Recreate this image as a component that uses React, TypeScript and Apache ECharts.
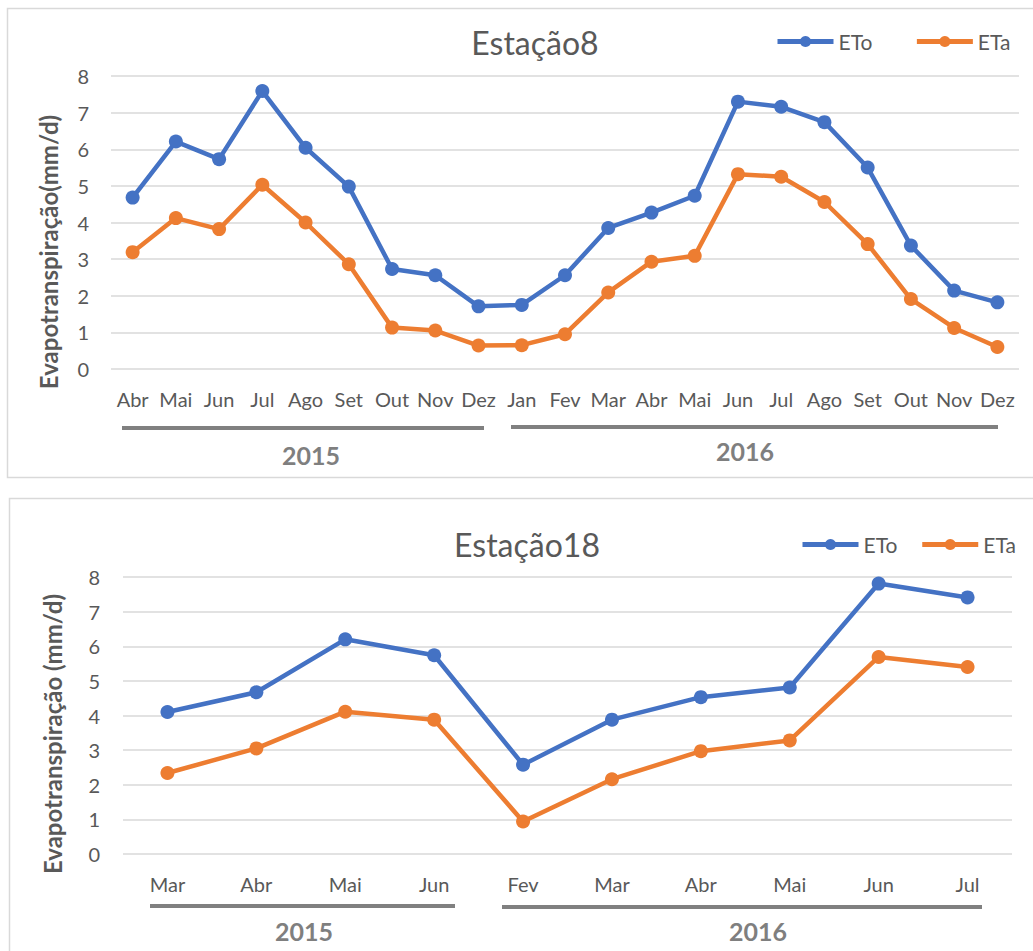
import React, { useEffect, useRef } from "react";
import * as echarts from "echarts";

// ---- Data: Estação8 ----
const months8 = ["Abr", "Mai", "Jun", "Jul", "Ago", "Set", "Out", "Nov", "Dez", "Jan", "Fev", "Mar", "Abr", "Mai", "Jun", "Jul", "Ago", "Set", "Out", "Nov", "Dez"];
const eto8 = [4.68, 6.21, 5.73, 7.59, 6.04, 4.98, 2.73, 2.56, 1.71, 1.75, 2.56, 3.85, 4.27, 4.73, 7.3, 7.16, 6.74, 5.5, 3.37, 2.14, 1.82];
const eta8 = [3.19, 4.12, 3.82, 5.03, 4.0, 2.86, 1.13, 1.05, 0.64, 0.65, 0.95, 2.09, 2.93, 3.09, 5.32, 5.25, 4.56, 3.41, 1.91, 1.12, 0.6];

// ---- Data: Estação18 ----
const months18 = ["Mar", "Abr", "Mai", "Jun", "Fev", "Mar", "Abr", "Mai", "Jun", "Jul"];
const eto18 = [4.1, 4.67, 6.2, 5.74, 2.58, 3.88, 4.53, 4.81, 7.81, 7.41];
const eta18 = [2.34, 3.05, 4.11, 3.88, 0.94, 2.16, 2.97, 3.28, 5.69, 5.4];

const yearLabels = ["2015", "2016"];
const seriesNames = ["ETo", "ETa"];
const titles = ["Estação8", "Estação18"];
const yNames = ["Evapotranspiração(mm/d)", "Evapotranspiração (mm/d)"];

const BLUE = "#4472C4";
const ORANGE = "#ED7D31";
const TEXT = "#595959";
const GRID = "#D9D9D9";
const YEARGRAY = "#7F7F7F";
const FONT = "Lato, 'Noto Sans', sans-serif";

export default function App() {
  const ref = useRef<HTMLDivElement>(null);
  useEffect(() => {
    if (!ref.current) return;
    const chart = echarts.init(ref.current, undefined, { renderer: "svg" });

    const yAxisBase = (gridIndex: number, margin: number) => ({
      type: "value",
      gridIndex,
      min: 0,
      max: 8,
      interval: 1,
      axisLine: { show: false },
      axisTick: { show: false },
      axisLabel: { color: TEXT, fontSize: 20, fontFamily: FONT, margin },
      splitLine: { lineStyle: { color: GRID, width: 1.5 } },
    });
    const xAxisBase = (gridIndex: number, data: string[]) => ({
      type: "category",
      gridIndex,
      data,
      boundaryGap: true,
      axisLine: { show: false },
      axisTick: { show: false },
      axisLabel: { color: TEXT, fontSize: 20, fontFamily: FONT, margin: 20, interval: 0 },
    });
    const lineSeries = (name: string, data: number[], color: string, idx: number, lw: number, sz: number) => ({
      type: "line",
      name,
      data,
      xAxisIndex: idx,
      yAxisIndex: idx,
      symbol: "circle",
      symbolSize: sz,
      lineStyle: { color, width: lw },
      itemStyle: { color },
    });

    const legendBase = (left: number, top: number, gap: number) => ({
      left,
      top,
      itemGap: gap,
      itemWidth: 56,
      itemHeight: 14,
      lineStyle: { width: 5 },
      textStyle: { color: TEXT, fontSize: 21, fontFamily: FONT },
    });

    const yName = (x: number, y: number, text: string) => ({
      type: "text",
      x,
      y,
      rotation: Math.PI / 2,
      style: { text, fill: TEXT, fontSize: 24, fontWeight: "bold", fontFamily: FONT, textAlign: "center", textVerticalAlign: "middle" },
    });
    const yearText = (x: number, y: number, text: string) => ({
      type: "text",
      x,
      y,
      style: { text, fill: YEARGRAY, fontSize: 25, fontWeight: "bold", fontFamily: FONT, textAlign: "center", textVerticalAlign: "middle" },
    });
    const yearLine = (x1: number, x2: number, y: number) => ({
      type: "line",
      shape: { x1, y1: y, x2, y2: y },
      style: { stroke: "#808080", lineWidth: 4 },
    });

    chart.setOption({
      animation: false,
      backgroundColor: "#fff",
      grid: [
        { left: 111, top: 76, right: 14, height: 293 },
        { left: 123, top: 577, right: 21, height: 277 },
      ],
      xAxis: [xAxisBase(0, months8), xAxisBase(1, months18)],
      yAxis: [yAxisBase(0, 22), yAxisBase(1, 23)],
      legend: [
        { ...legendBase(770, 26, 42), data: seriesNames },
        { ...legendBase(795, 529, 17), data: seriesNames.map((n) => n + " ") },
      ],
      series: [
        lineSeries(seriesNames[0], eto8, BLUE, 0, 4.5, 14),
        lineSeries(seriesNames[1], eta8, ORANGE, 0, 4.5, 14),
        lineSeries(seriesNames[0] + " ", eto18, BLUE, 1, 4.5, 14),
        lineSeries(seriesNames[1] + " ", eta18, ORANGE, 1, 4.5, 14),
      ],
      graphic: [
        { type: "rect", shape: { x: 7.5, y: 8.5, width: 1040, height: 469 }, style: { fill: "none", stroke: GRID, lineWidth: 1.5 }, silent: true },
        { type: "rect", shape: { x: 9.5, y: 498.5, width: 1040, height: 480 }, style: { fill: "none", stroke: GRID, lineWidth: 1.5 }, silent: true },
        { type: "text", x: 535, y: 42, style: { text: titles[0], fill: TEXT, fontSize: 32, fontFamily: FONT, textAlign: "center", textVerticalAlign: "middle" } },
        { type: "text", x: 527, y: 544, style: { text: titles[1], fill: TEXT, fontSize: 32, fontFamily: FONT, textAlign: "center", textVerticalAlign: "middle" } },
        yName(48, 252, yNames[0]),
        yName(52, 734, yNames[1]),
        yearLine(122, 484, 428),
        yearLine(511, 998, 427),
        yearLine(150, 455, 906),
        yearLine(502, 982, 907),
        yearText(311, 455, yearLabels[0]),
        yearText(745, 451, yearLabels[1]),
        yearText(304, 931, yearLabels[0]),
        yearText(758, 931, yearLabels[1]),
      ],
    });
    return () => chart.dispose();
  }, []);
  return <div ref={ref} style={{ position: "absolute", left: 0, top: 0, width: 1033, height: 951 }} />;
}
